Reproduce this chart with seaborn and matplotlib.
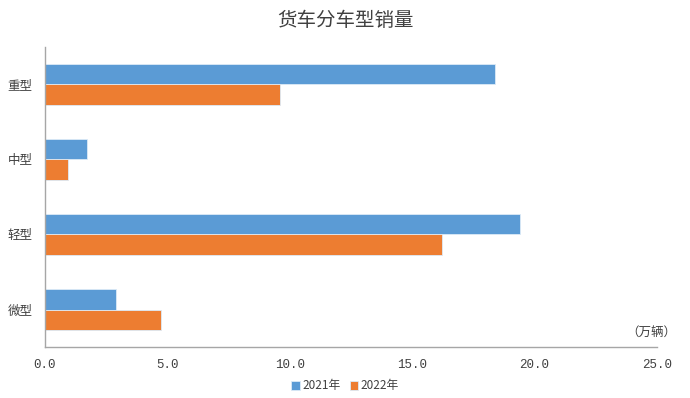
import matplotlib
matplotlib.use("Agg")
import matplotlib.pyplot as plt
import seaborn as sns
import pandas as pd

categories = ["重型", "中型", "轻型", "微型"]
series_names = ["2021年", "2022年"]
sales_2021 = [18.4, 1.7, 19.4, 2.9]
sales_2022 = [9.6, 0.95, 16.2, 4.75]
x_ticks = [0, 5, 10, 15, 20, 25]

df = pd.DataFrame({
    "车型": categories * 2,
    "年份": [series_names[0]] * 4 + [series_names[1]] * 4,
    "销量": sales_2021 + sales_2022,
})

sns.set_theme(style="white")
plt.rcParams['font.family'] = ['Noto Sans CJK SC', 'DejaVu Sans']

fig = plt.figure(figsize=(6.9, 3.98), dpi=100)
ax = fig.add_axes([45/690, 51/398, 612/690, 300/398])

sns.barplot(data=df, y="车型", x="销量", hue="年份",
            order=categories, hue_order=series_names,
            palette=["#5B9BD5", "#ED7D31"], orient="h", width=0.55,
            saturation=1, ax=ax, legend=True,
            edgecolor="#DDEBF7", linewidth=0.6)

ax.set_xlim(0, 25)
ax.set_xticks(x_ticks)
ax.set_xticklabels([f"{v:.1f}" for v in x_ticks], family="Liberation Mono",
                   fontsize=9, color="#404040")
ax.tick_params(axis="y", labelsize=9, colors="#404040", length=0, pad=9)
ax.tick_params(axis="x", length=0, pad=9)
ax.set_xlabel("")
ax.set_ylabel("")
for s in ["top", "right"]:
    ax.spines[s].set_visible(False)
for s in ["left", "bottom"]:
    ax.spines[s].set_color("#A6A6A6")
    ax.spines[s].set_linewidth(1.0)

ax.text(1.032, 0.05, "（万辆）", transform=ax.transAxes, ha="right", va="center",
        fontsize=9, color="#404040")

fig.suptitle("货车分车型销量", y=0.975, fontsize=14, color="#404040")

handles, labels = ax.get_legend_handles_labels()
ax.get_legend().remove()
fig.legend(handles, labels, loc="center", bbox_to_anchor=(0.5, 12/398),
           ncol=2, frameon=False, fontsize=8.5, handlelength=0.7,
           handleheight=0.7, handletextpad=0.2, columnspacing=0.8,
           labelcolor="#404040")

fig.savefig("out.png", dpi=100)
